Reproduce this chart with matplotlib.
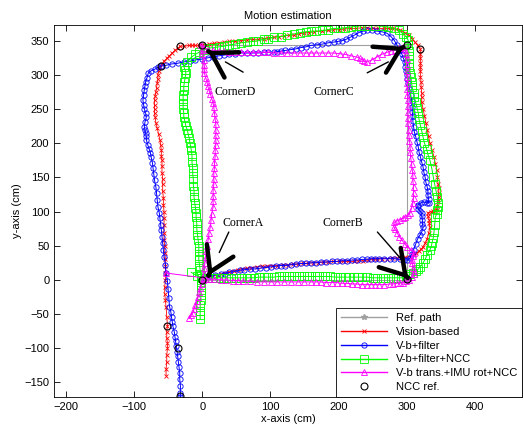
import matplotlib
matplotlib.use('Agg')
import matplotlib.pyplot as plt

plt.rcParams['font.family'] = ['Liberation Sans', 'DejaVu Sans']

# reference path (square corners)
ref_x = [0, 300, 300, 0, 0]
ref_y = [0, 0, 343, 343, 0]

# vision based (x, y) in cm
vis_pts = [(5, 3), (10, 4), (15, 6), (21, 7), (27, 8), (33, 10), (40, 12), (46, 13), (52, 15), (58, 16),
           (65, 17), (72, 18), (80, 19), (87, 20), (95, 20), (102, 21), (110, 21), (118, 22), (126, 22),
           (133, 23), (140, 23), (148, 24), (155, 24), (162, 25), (170, 25), (177, 26), (185, 26), (192, 27),
           (200, 27), (207, 27), (214, 27), (222, 27), (229, 28), (236, 28), (243, 29), (250, 30), (257, 30),
           (264, 31), (271, 31), (278, 32), (285, 32), (292, 33), (298, 33), (305, 34), (310, 36), (314, 39),
           (318, 42), (321, 45), (324, 48), (327, 54), (330, 60), (332, 68), (334, 77), (333, 83), (333, 88),
           (331, 93), (331, 98), (335, 100), (338, 101), (341, 102), (344, 102), (345, 108), (346, 115),
           (347, 121), (347, 127), (347, 134), (346, 140), (345, 150), (344, 161), (342, 170), (340, 180),
           (337, 190), (334, 200), (332, 210), (330, 220), (328, 230), (326, 240), (324, 250), (322, 260),
           (322, 267), (322, 274), (321, 282), (321, 290), (320, 297), (320, 305), (320, 311), (320, 317),
           (320, 324), (320, 330), (320, 338), (316, 343), (312, 348), (308, 353), (303, 358), (297, 362),
           (290, 366), (284, 367), (278, 368), (272, 368), (266, 368), (258, 368), (250, 368), (242, 369),
           (235, 369), (226, 368), (217, 368), (208, 367), (200, 366), (192, 366), (185, 365), (175, 364),
           (164, 363), (157, 362), (150, 361), (142, 360), (135, 358), (128, 358), (120, 357), (112, 356),
           (105, 355), (97, 354), (90, 353), (82, 352), (75, 352), (66, 351), (57, 350), (48, 349), (40, 349),
           (32, 348), (25, 347), (17, 346), (10, 345), (5, 344), (0, 344), (-5, 343), (-10, 343), (-15, 343),
           (-20, 343), (-26, 342), (-32, 342), (-36, 339), (-40, 336), (-44, 332), (-48, 328), (-52, 324),
           (-56, 320), (-59, 316), (-62, 312), (-64, 306), (-65, 300), (-65, 294), (-66, 288), (-67, 281),
           (-68, 275), (-69, 269), (-70, 263), (-70, 256), (-70, 250), (-70, 244), (-69, 238), (-68, 230),
           (-66, 222), (-64, 213), (-62, 205), (-61, 197), (-60, 190), (-60, 182), (-59, 175), (-59, 166),
           (-59, 157), (-58, 148), (-58, 140), (-58, 130), (-57, 120), (-57, 110), (-56, 100), (-56, 90),
           (-56, 80), (-56, 69), (-56, 58), (-55, 49), (-55, 40), (-54, 30), (-54, 20), (-54, 10), (-54, 0),
           (-55, -10), (-55, -20), (-54, -30), (-53, -40), (-52, -54), (-51, -67), (-52, -76), (-52, -85),
           (-51, -93), (-51, -100), (-52, -110), (-52, -120), (-53, -130), (-53, -140)]

# vision based + filter
flt_pts = [(3, 3), (8, 5), (12, 6), (19, 7), (27, 8), (33, 9), (40, 11), (47, 12), (55, 14), (62, 15),
           (70, 16), (77, 16), (85, 17), (93, 18), (101, 19), (108, 20), (115, 21), (122, 21), (130, 22),
           (137, 23), (145, 24), (152, 24), (160, 25), (167, 25), (174, 26), (182, 26), (190, 27), (197, 27),
           (205, 28), (212, 28), (220, 29), (227, 29), (235, 30), (241, 30), (247, 31), (254, 31), (260, 31),
           (267, 31), (275, 31), (282, 31), (290, 30), (296, 29), (301, 29), (305, 32), (307, 38), (310, 44),
           (313, 52), (316, 60), (319, 65), (322, 70), (324, 77), (323, 82), (323, 88), (322, 93), (322, 98),
           (319, 101), (317, 104), (316, 108), (317, 110), (321, 113), (325, 114), (329, 113), (332, 112),
           (332, 118), (331, 124), (331, 130), (330, 136), (328, 143), (327, 150), (325, 158), (324, 165),
           (322, 172), (320, 180), (318, 187), (317, 194), (315, 202), (313, 210), (311, 217), (310, 224),
           (309, 232), (309, 240), (308, 246), (308, 253), (307, 262), (306, 270), (304, 279), (302, 288),
           (301, 294), (300, 300), (299, 306), (298, 312), (297, 319), (295, 325), (293, 330), (290, 336),
           (286, 343), (282, 350), (277, 356), (271, 361), (264, 363), (256, 364), (249, 365), (242, 365),
           (236, 364), (230, 362), (223, 358), (217, 355), (211, 352), (205, 350), (199, 349), (193, 348),
           (185, 347), (176, 345), (168, 344), (159, 343), (152, 341), (145, 340), (137, 338), (130, 337),
           (122, 336), (115, 335), (110, 334), (105, 333), (97, 333), (90, 333), (82, 332), (75, 332),
           (66, 332), (57, 332), (48, 331), (40, 330), (32, 329), (25, 328), (16, 326), (8, 325), (-1, 323),
           (-10, 322), (-18, 320), (-27, 319), (-36, 317), (-45, 316), (-53, 314), (-60, 313), (-65, 311),
           (-70, 308), (-75, 306), (-79, 303), (-81, 296), (-83, 290), (-84, 284), (-85, 278), (-86, 270),
           (-87, 263), (-86, 256), (-85, 250), (-83, 244), (-82, 238), (-84, 231), (-85, 224), (-84, 219),
           (-83, 215), (-82, 210), (-82, 205), (-80, 198), (-78, 192), (-76, 186), (-75, 180), (-73, 171),
           (-72, 163), (-71, 155), (-70, 146), (-68, 136), (-67, 127), (-66, 117), (-65, 107), (-63, 98),
           (-62, 90), (-61, 81), (-60, 73), (-59, 63), (-58, 54), (-57, 44), (-56, 34), (-54, 22), (-53, 10),
           (-51, -2), (-50, -14), (-49, -27), (-48, -39), (-46, -47), (-45, -55), (-44, -61), (-43, -68),
           (-41, -76), (-40, -83), (-39, -90), (-38, -97), (-37, -105), (-36, -112), (-35, -120), (-34, -127),
           (-33, -136), (-33, -145), (-32, -155), (-32, -165), (-32, -172)]

# vision based + filter + NCC
ncc_pts = [(-16, 11), (-8, 6), (0, 3), (8, 3), (14, 3), (20, 3), (27, 3), (35, 3), (42, 3), (50, 3),
           (57, 3), (65, 3), (70, 3), (76, 3), (83, 4), (90, 4), (97, 4), (105, 4), (112, 5), (120, 5),
           (127, 5), (135, 5), (142, 5), (149, 5), (157, 5), (165, 5), (172, 5), (180, 5), (187, 5), (195, 4),
           (202, 4), (210, 4), (216, 4), (222, 4), (228, 4), (235, 4), (242, 4), (250, 3), (257, 3), (265, 3),
           (272, 3), (280, 3), (287, 3), (295, 3), (300, 5), (305, 8), (309, 10), (313, 13), (317, 16),
           (320, 19), (324, 25), (327, 30), (330, 37), (334, 44), (336, 49), (337, 54), (339, 62), (340, 70),
           (341, 81), (342, 92), (344, 97), (345, 102), (346, 107), (346, 112), (345, 121), (343, 130),
           (341, 140), (339, 150), (337, 162), (334, 175), (331, 184), (329, 192), (326, 200), (324, 209),
           (322, 218), (320, 226), (318, 235), (317, 244), (315, 252), (313, 260), (311, 267), (310, 274),
           (308, 282), (307, 290), (306, 297), (305, 303), (304, 311), (304, 318), (303, 327), (303, 335),
           (302, 343), (302, 351), (299, 356), (295, 360), (288, 365), (281, 368), (273, 370), (265, 371),
           (254, 372), (242, 372), (233, 372), (225, 371), (218, 370), (210, 369), (202, 368), (193, 368),
           (184, 366), (175, 365), (167, 364), (160, 364), (152, 363), (144, 362), (135, 360), (125, 358),
           (115, 356), (105, 355), (97, 353), (90, 352), (82, 350), (75, 349), (66, 348), (57, 347), (48, 345),
           (40, 344), (32, 342), (25, 341), (16, 340), (8, 339), (2, 336), (-5, 333), (-10, 330), (-16, 326),
           (-22, 319), (-27, 312), (-25, 307), (-24, 303), (-25, 296), (-26, 290), (-27, 284), (-27, 278),
           (-28, 271), (-28, 265), (-28, 257), (-28, 250), (-27, 244), (-27, 238), (-25, 231), (-24, 225),
           (-22, 220), (-21, 215), (-19, 207), (-18, 200), (-17, 195), (-16, 190), (-15, 181), (-15, 172),
           (-14, 164), (-14, 156), (-13, 147), (-13, 138), (-12, 130), (-12, 121), (-11, 113), (-10, 105),
           (-9, 98), (-9, 92), (-8, 83), (-8, 75), (-7, 66), (-6, 58), (-5, 50), (-5, 42), (-5, 35), (-5, 29),
           (-4, 21), (-3, 14), (-2, 7), (-2, 0), (-2, -8), (-2, -15), (-2, -22), (-2, -29), (-3, -37),
           (-3, -45), (-3, -52), (-3, -58)]

# vision based translation + IMU rotation + NCC
imu_pts = [(-53, 10), (1, 3), (5, 2), (10, 1), (18, 1), (27, 0), (35, 0), (45, -1), (52, -1), (60, -2),
           (70, -2), (80, -3), (90, -3), (101, -3), (110, -3), (120, -3), (130, -3), (140, -3), (150, -3),
           (160, -3), (167, -3), (174, -3), (182, -4), (190, -4), (197, -4), (205, -5), (212, -5), (220, -6),
           (227, -6), (235, -7), (241, -7), (247, -7), (254, -7), (260, -7), (267, -7), (275, -6), (280, -6),
           (285, -5), (290, -5), (295, -4), (299, -2), (303, 0), (307, 4), (310, 8), (310, 13), (309, 18),
           (308, 24), (308, 29), (309, 35), (310, 40), (306, 44), (301, 48), (297, 53), (293, 58), (289, 63),
           (286, 69), (283, 74), (281, 78), (281, 84), (285, 86), (290, 88), (294, 90), (298, 92), (302, 95),
           (305, 98), (307, 105), (309, 112), (310, 120), (310, 127), (310, 136), (309, 145), (309, 153),
           (308, 161), (307, 170), (306, 178), (305, 187), (305, 195), (304, 203), (303, 212), (303, 220),
           (302, 229), (302, 237), (302, 246), (302, 254), (302, 263), (301, 271), (301, 280), (301, 288),
           (301, 297), (300, 306), (300, 315), (300, 323), (299, 330), (297, 336), (295, 341), (289, 339),
           (283, 337), (277, 335), (271, 333), (263, 330), (256, 326), (249, 322), (242, 319), (238, 320),
           (235, 322), (231, 324), (227, 326), (218, 328), (210, 330), (202, 331), (193, 332), (184, 332),
           (175, 332), (167, 332), (160, 332), (152, 332), (144, 332), (135, 332), (125, 332), (115, 332),
           (105, 332), (97, 333), (90, 333), (82, 333), (75, 333), (66, 333), (57, 333), (48, 334), (40, 334),
           (32, 335), (25, 335), (16, 336), (8, 336), (3, 340), (-2, 344), (-1, 337), (0, 330), (2, 322),
           (3, 315), (3, 309), (3, 303), (5, 296), (7, 290), (8, 284), (10, 278), (12, 272), (14, 265),
           (16, 259), (17, 253), (18, 244), (19, 235), (20, 228), (20, 220), (20, 212), (20, 205), (20, 198),
           (19, 190), (19, 181), (18, 172), (18, 164), (17, 156), (17, 148), (17, 140), (16, 131), (16, 123),
           (16, 115), (16, 107), (14, 97), (13, 88), (12, 78), (10, 69), (9, 60), (7, 50), (6, 42), (5, 34),
           (4, 25), (3, 17), (2, 8), (1, 0), (-1, -6), (-3, -12), (-4, -18), (-6, -25), (-8, -31), (-10, -37),
           (-12, -43), (-14, -48), (-17, -52), (-19, -56)]

# NCC reference points
pts_x = [0, 300, 300, 0, -32, -60, 320, -51, -36, -32]
pts_y = [0, 2, 343, 343, 342, 313, 338, -67, -100, -170]

corners = ['CornerA', 'CornerB', 'CornerC', 'CornerD']
label_pos = [(60, 83), (206, 83), (193, 275), (48, 275)]
line_from = [(39, 70), (257, 70), (242, 303), (60, 304)]
line_to = [(25, 40), (293, 29), (273, 319), (34, 319)]
tips = [(9, 6), (302, 2), (296, 341), (8, 335)]

vis_x, vis_y = zip(*vis_pts)
flt_x, flt_y = zip(*flt_pts)
ncc_x, ncc_y = zip(*ncc_pts)
imu_x, imu_y = zip(*imu_pts)

fig = plt.figure(figsize=(5.24, 4.28), dpi=100)
ax = fig.add_axes([0.1036, 0.0731, 0.8925, 0.8685])

ax.plot(ref_x, ref_y, color='#a0a0a0', lw=0.8, marker='*', ms=4, label='Ref. path')
ax.plot(vis_x, vis_y, color='#ff0000', lw=0.6, marker='x', ms=3, mew=0.6, label='Vision-based')
ax.plot(flt_x, flt_y, color='#0000ff', lw=0.7, marker='o', ms=3.8, mfc='none', mew=0.6, label='V-b+filter')
ax.plot(ncc_x, ncc_y, color='#00ff00', lw=0.7, marker='s', ms=5.5, mfc='none', mew=0.6,
        label='V-b+filter+NCC')
ax.plot(imu_x, imu_y, color='#ff00ff', lw=0.7, marker='^', ms=3.8, mfc='none', mew=0.6,
        label='V-b trans.+IMU rot+NCC')
ax.plot(pts_x, pts_y, ls='none', color='black', marker='o', ms=5, mfc='none', mew=0.8, label='NCC ref.')

for name, pos, a, b, tip in zip(corners, label_pos, line_from, line_to, tips):
    ax.text(pos[0], pos[1], name, family=['Liberation Serif'], fontsize=8.5, ha='center', va='center')
    ax.annotate('', xy=b, xytext=a, arrowprops=dict(arrowstyle='-', lw=1.0, color='black',
                                                      shrinkA=0, shrinkB=0))
    dx, dy = a[0] - b[0], a[1] - b[1]
    n = (dx ** 2 + dy ** 2) ** 0.5
    ax.annotate('', xy=tip, xytext=(tip[0] + dx / n, tip[1] + dy / n),
                arrowprops=dict(arrowstyle='->,head_length=1.7,head_width=1.05', lw=3.2,
                                color='black', shrinkA=0, shrinkB=0, mutation_scale=10))

ax.set_xlim(-217, 469)
ax.set_ylim(-171, 373)
ax.set_xticks(range(-200, 401, 100))
ax.set_yticks(range(-150, 351, 50))
ax.tick_params(direction='in', top=True, right=True, labelsize=8, length=4, width=0.6)
for s in ax.spines.values():
    s.set_linewidth(0.6)
ax.set_xlabel('x-axis (cm)', fontsize=8, labelpad=2)
ax.set_ylabel('y-axis (cm)', fontsize=8, labelpad=2)
ax.set_title('Motion estimation', fontsize=8, pad=4)

leg = ax.legend(loc='lower right', borderaxespad=0, fontsize=8, fancybox=False, framealpha=1,
                edgecolor='black', handlelength=4.2, labelspacing=0.35, borderpad=0.4)
leg.get_frame().set_linewidth(0.6)
for ln in leg.get_lines():
    ln.set_linewidth(1.0)

plt.savefig('out.png')
